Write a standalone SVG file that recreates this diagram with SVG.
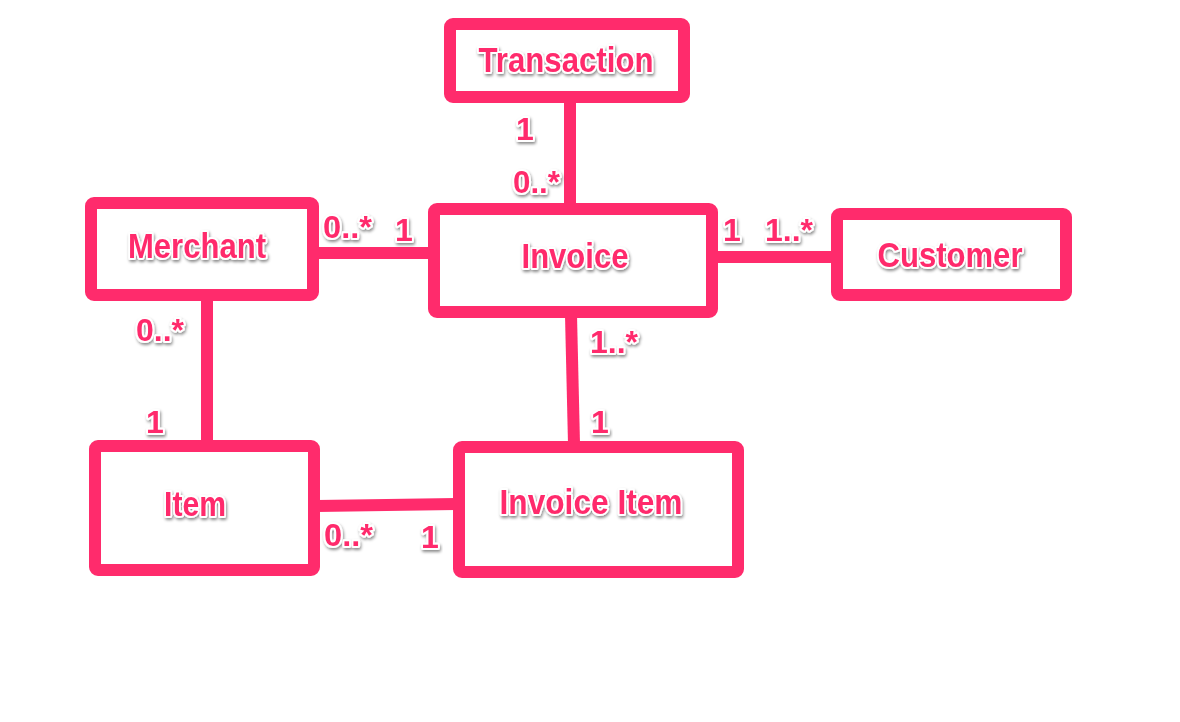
<svg xmlns="http://www.w3.org/2000/svg" width="1180" height="722" viewBox="0 0 1180 722">
<defs>
<filter id="sh" x="-20%" y="-30%" width="140%" height="160%">
<feDropShadow dx="1" dy="2" stdDeviation="1.5" flood-color="#000" flood-opacity="0.45"/>
</filter>
</defs>
<style>
.box{fill:#fff;stroke:#ff2b6c;stroke-width:12;stroke-linejoin:round}
.ln{stroke:#ff2b6c;stroke-width:12;fill:none}
text{font-family:"Liberation Sans",Arial,sans-serif;font-weight:bold;fill:#ff2b6c;stroke:#fff;stroke-width:4;paint-order:stroke;stroke-linejoin:round;filter:url(#sh)}
.n{font-size:35px;text-anchor:middle}
.m{font-size:32px}
</style>
<rect width="1180" height="722" fill="#fff"/>
<g id="connectors">
<line class="ln" x1="570" y1="100" x2="570" y2="206"/>
<line class="ln" x1="316" y1="253" x2="431" y2="253"/>
<line class="ln" x1="715" y1="257" x2="834" y2="257"/>
<line class="ln" x1="207" y1="298" x2="207" y2="443"/>
<line class="ln" x1="571" y1="315" x2="574" y2="444"/>
<line class="ln" x1="317" y1="506" x2="456" y2="504"/>
</g>
<g id="transaction"><rect class="box" x="450" y="24" width="234" height="73" rx="3"/><text class="n" x="566" y="72" textLength="175" lengthAdjust="spacingAndGlyphs">Transaction</text></g>
<g id="merchant"><rect class="box" x="91" y="203" width="222" height="92" rx="3"/><text class="n" x="197" y="258" textLength="138" lengthAdjust="spacingAndGlyphs">Merchant</text></g>
<g id="invoice"><rect class="box" x="434" y="209" width="278" height="103" rx="3"/><text class="n" x="575" y="268" textLength="107" lengthAdjust="spacingAndGlyphs">Invoice</text></g>
<g id="customer"><rect class="box" x="837" y="214" width="229" height="81" rx="3"/><text class="n" x="950" y="267" textLength="145" lengthAdjust="spacingAndGlyphs">Customer</text></g>
<g id="item"><rect class="box" x="95" y="446" width="219" height="124" rx="3"/><text class="n" x="195" y="516" textLength="62" lengthAdjust="spacingAndGlyphs">Item</text></g>
<g id="invoice-item"><rect class="box" x="459" y="447" width="279" height="125" rx="3"/><text class="n" x="591" y="514" textLength="183" lengthAdjust="spacingAndGlyphs">Invoice Item</text></g>
<g id="labels">
<text class="m" x="516" y="140">1</text>
<text class="m" x="513" y="193" textLength="47" lengthAdjust="spacingAndGlyphs">0..*</text>
<text class="m" x="323" y="238" textLength="49" lengthAdjust="spacingAndGlyphs">0..*</text>
<text class="m" x="395" y="241">1</text>
<text class="m" x="723" y="241">1</text>
<text class="m" x="765" y="241" textLength="48" lengthAdjust="spacingAndGlyphs">1..*</text>
<text class="m" x="136" y="341" textLength="48" lengthAdjust="spacingAndGlyphs">0..*</text>
<text class="m" x="146" y="433">1</text>
<text class="m" x="590" y="353" textLength="48" lengthAdjust="spacingAndGlyphs">1..*</text>
<text class="m" x="591" y="433">1</text>
<text class="m" x="324" y="546" textLength="49" lengthAdjust="spacingAndGlyphs">0..*</text>
<text class="m" x="421" y="548">1</text>
</g>
</svg>
